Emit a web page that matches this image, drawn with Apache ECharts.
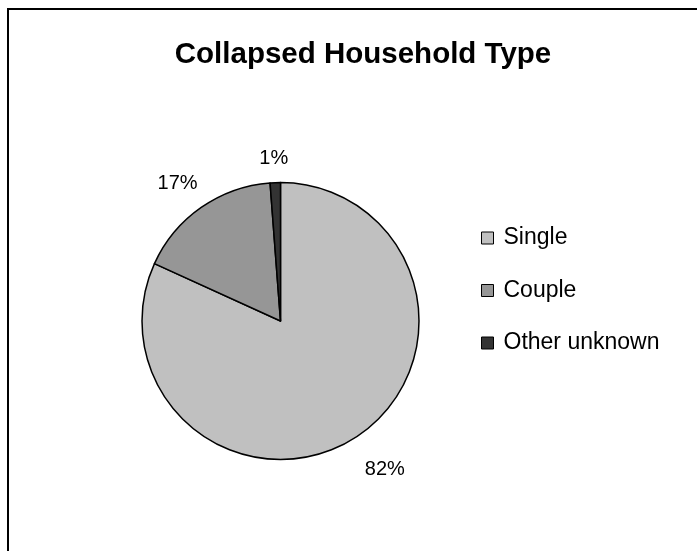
<!DOCTYPE html>
<html>
<head>
<meta charset="utf-8">
<script src="https://cdn.jsdelivr.net/npm/echarts@6/dist/echarts.min.js"></script>
<style>
html,body{margin:0;padding:0;background:#fff;overflow:hidden;}
#chart{width:697px;height:551px;}
</style>
</head>
<body>
<div id="chart"></div>
<script>
const categories = ['Single', 'Couple', 'Other unknown'];
const values = [81.8, 17.0, 1.2];
const colors = ['#C0C0C0', '#969696', '#333333'];
const titleText = 'Collapsed Household Type';

const total = values.reduce((a, b) => a + b, 0);
const fmt = p => Math.round(p.value / total * 100) + '%';

// label nudges (layout only)
const labelNudges = [[8, -1], [-1, 8], [0, 15]];

const pieData = categories.map((c, i) => ({ name: c, value: values[i], itemStyle: { color: colors[i] } }));
const labelData = categories.map((c, i) => ({ name: c, value: values[i], label: { offset: labelNudges[i] } }));

const chart = echarts.init(document.getElementById('chart'), null, { renderer: 'canvas' });
chart.setOption({
  animation: false,
  backgroundColor: '#fff',
  title: {
    text: titleText,
    left: 358, top: 35, textAlign: 'center',
    textStyle: { fontFamily: 'Liberation Sans, Arial', fontWeight: 'bold', fontSize: 29.5, color: '#000' }
  },
  legend: {
    orient: 'vertical',
    left: 476, top: 221.5,
    icon: 'rect',
    itemWidth: 12, itemHeight: 12,
    itemGap: 29.5,
    data: categories,
    itemStyle: { borderColor: '#000', borderWidth: 1 },
    textStyle: { fontFamily: 'Liberation Sans, Arial', fontSize: 23, color: '#000', lineHeight: 23, padding: [0, 0, 0, 5] }
  },
  graphic: [{
    type: 'rect', silent: true,
    shape: { x: 8, y: 9, width: 900, height: 900 },
    style: { fill: 'none', stroke: '#000', lineWidth: 2 }
  }],
  series: [{
    type: 'pie',
    center: [280.5, 321],
    radius: [0, 138.5],
    startAngle: 90,
    clockwise: true,
    label: { show: false },
    labelLine: { show: false },
    itemStyle: { borderColor: '#000', borderWidth: 1.5 },
    emphasis: { disabled: true },
    data: pieData
  }, {
    type: 'pie',
    center: [280.5, 321],
    radius: [150, 200],
    startAngle: 90,
    clockwise: true,
    silent: true,
    itemStyle: { color: 'rgba(0,0,0,0)', borderWidth: 0 },
    label: {
      show: true, position: 'inside', formatter: fmt, rotate: 0,
      fontFamily: 'Liberation Sans, Arial', fontSize: 20, color: '#000'
    },
    labelLine: { show: false },
    emphasis: { disabled: true },
    data: labelData
  }]
});
</script>
</body>
</html>
